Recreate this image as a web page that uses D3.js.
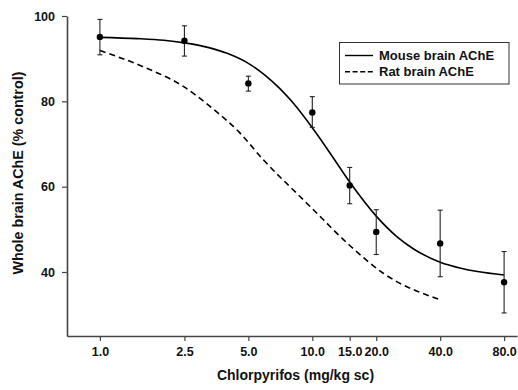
<!DOCTYPE html>
<html>
<head>
<meta charset="utf-8">
<script src="https://cdn.jsdelivr.net/npm/d3@7"></script>
<style>
  html, body { margin: 0; padding: 0; background: #fff; }
  svg { display: block; }
  text { font-family: Arial, "Liberation Sans", sans-serif; font-weight: bold; fill: #111; }
</style>
</head>
<body>
<svg id="chart" width="518" height="390"></svg>
<script>
// ---- data ----
const doses = [1.0, 2.5, 5.0, 10.0, 15.0, 20.0, 40.0, 80.0];
const mouseMean = [95.1, 94.2, 84.2, 77.4, 60.3, 49.4, 46.7, 37.6];
const mouseUpper = [99.2, 97.7, 85.9, 81.1, 64.5, 54.6, 54.5, 44.8];
const mouseLower = [90.9, 90.6, 82.4, 73.9, 56.0, 44.1, 38.9, 30.4];

const mouseCurveX = [1, 1.5, 2, 2.5, 3, 4, 5, 6, 7, 8, 10, 12, 15, 20, 25, 30, 40, 50, 60, 80];
const mouseCurveY = [95.0, 94.7, 94.3, 93.7, 93.0, 91.2, 88.9, 86.1, 83.1, 80.0, 73.8, 68.2, 61.1, 53.1, 48.3, 45.4, 42.3, 40.9, 40.1, 39.3];

const ratCurveX = [1, 1.6, 2.47, 3.3, 4.56, 5.88, 8.75, 9.93, 15.1, 21.6, 40];
const ratCurveY = [91.9, 88.1, 83.5, 78.8, 72.6, 66.3, 57.7, 55.0, 46.1, 39.7, 33.5];

const xTicks = [1.0, 2.5, 5.0, 10.0, 15.0, 20.0, 40.0, 80.0];
const yTicks = [40, 60, 80, 100];
const seriesNames = ["Mouse brain AChE", "Rat brain AChE"];

// ---- layout ----
const svg = d3.select("#chart");
const x = d3.scaleLog().domain([0.7, 92]).range([67, 517]);
const y = d3.scaleLinear().domain([25, 100]).range([336, 16]);
const axisColor = "#444";

// axes
const xAxis = svg.append("g").attr("transform", `translate(0,${y(25)})`)
  .call(d3.axisBottom(x).tickValues(xTicks).tickFormat(d3.format(".1f")).tickSize(5).tickPadding(6).tickSizeOuter(0));
const yAxis = svg.append("g").attr("transform", `translate(${x(0.7)},0)`)
  .call(d3.axisLeft(y).tickValues(yTicks).tickSize(5).tickPadding(7).tickSizeOuter(0));
[xAxis, yAxis].forEach(g => {
  g.select(".domain").attr("stroke", axisColor).attr("stroke-width", 1.6);
  g.selectAll(".tick line").attr("stroke", axisColor).attr("stroke-width", 1.2);
  g.selectAll(".tick text").attr("font-size", "12.5px").attr("font-weight", "bold")
    .attr("font-family", "Arial, 'Liberation Sans', sans-serif").attr("fill", "#111");
});

// axis titles
svg.append("text").attr("x", 295.5).attr("y", 380).attr("text-anchor", "middle")
  .attr("font-size", "14px").text("Chlorpyrifos (mg/kg sc)");
svg.append("text").attr("transform", "translate(23,173) rotate(-90)").attr("text-anchor", "middle")
  .attr("font-size", "14.3px").text("Whole brain AChE (% control)");

// curves
const line = d3.line().x(d => x(d[0])).y(d => y(d[1])).curve(d3.curveMonotoneX);
svg.append("path").datum(mouseCurveX.map((v, i) => [v, mouseCurveY[i]]))
  .attr("d", line).attr("fill", "none").attr("stroke", "#000").attr("stroke-width", 1.6);
svg.append("path").datum(ratCurveX.map((v, i) => [v, ratCurveY[i]]))
  .attr("d", line).attr("fill", "none").attr("stroke", "#000").attr("stroke-width", 1.6)
  .attr("stroke-dasharray", "6,4");

// error bars
const eb = svg.append("g").attr("stroke", "#222").attr("stroke-width", 1.1);
doses.forEach((d, i) => {
  const cx = x(d);
  eb.append("line").attr("x1", cx).attr("x2", cx).attr("y1", y(mouseUpper[i])).attr("y2", y(mouseLower[i]));
  eb.append("line").attr("x1", cx - 2.5).attr("x2", cx + 2.5).attr("y1", y(mouseUpper[i])).attr("y2", y(mouseUpper[i]));
  eb.append("line").attr("x1", cx - 2.5).attr("x2", cx + 2.5).attr("y1", y(mouseLower[i])).attr("y2", y(mouseLower[i]));
});
svg.append("g").selectAll("circle").data(doses).join("circle")
  .attr("cx", d => x(d)).attr("cy", (d, i) => y(mouseMean[i])).attr("r", 3.2).attr("fill", "#000");

// legend
const lg = svg.append("g");
lg.append("rect").attr("x", 339.5).attr("y", 42.5).attr("width", 169.5).attr("height", 41.5)
  .attr("fill", "#fff").attr("stroke", "#333").attr("stroke-width", 1);
seriesNames.forEach((name, i) => {
  const ly = 55.5 + i * 16.3;
  lg.append("line").attr("x1", 345).attr("x2", 373).attr("y1", ly).attr("y2", ly)
    .attr("stroke", "#000").attr("stroke-width", 1.4).attr("stroke-dasharray", i === 1 ? "5,2.6" : null);
  lg.append("text").attr("x", 379).attr("y", ly + 4.6).attr("font-size", "13px").text(name);
});
</script>
</body>
</html>
